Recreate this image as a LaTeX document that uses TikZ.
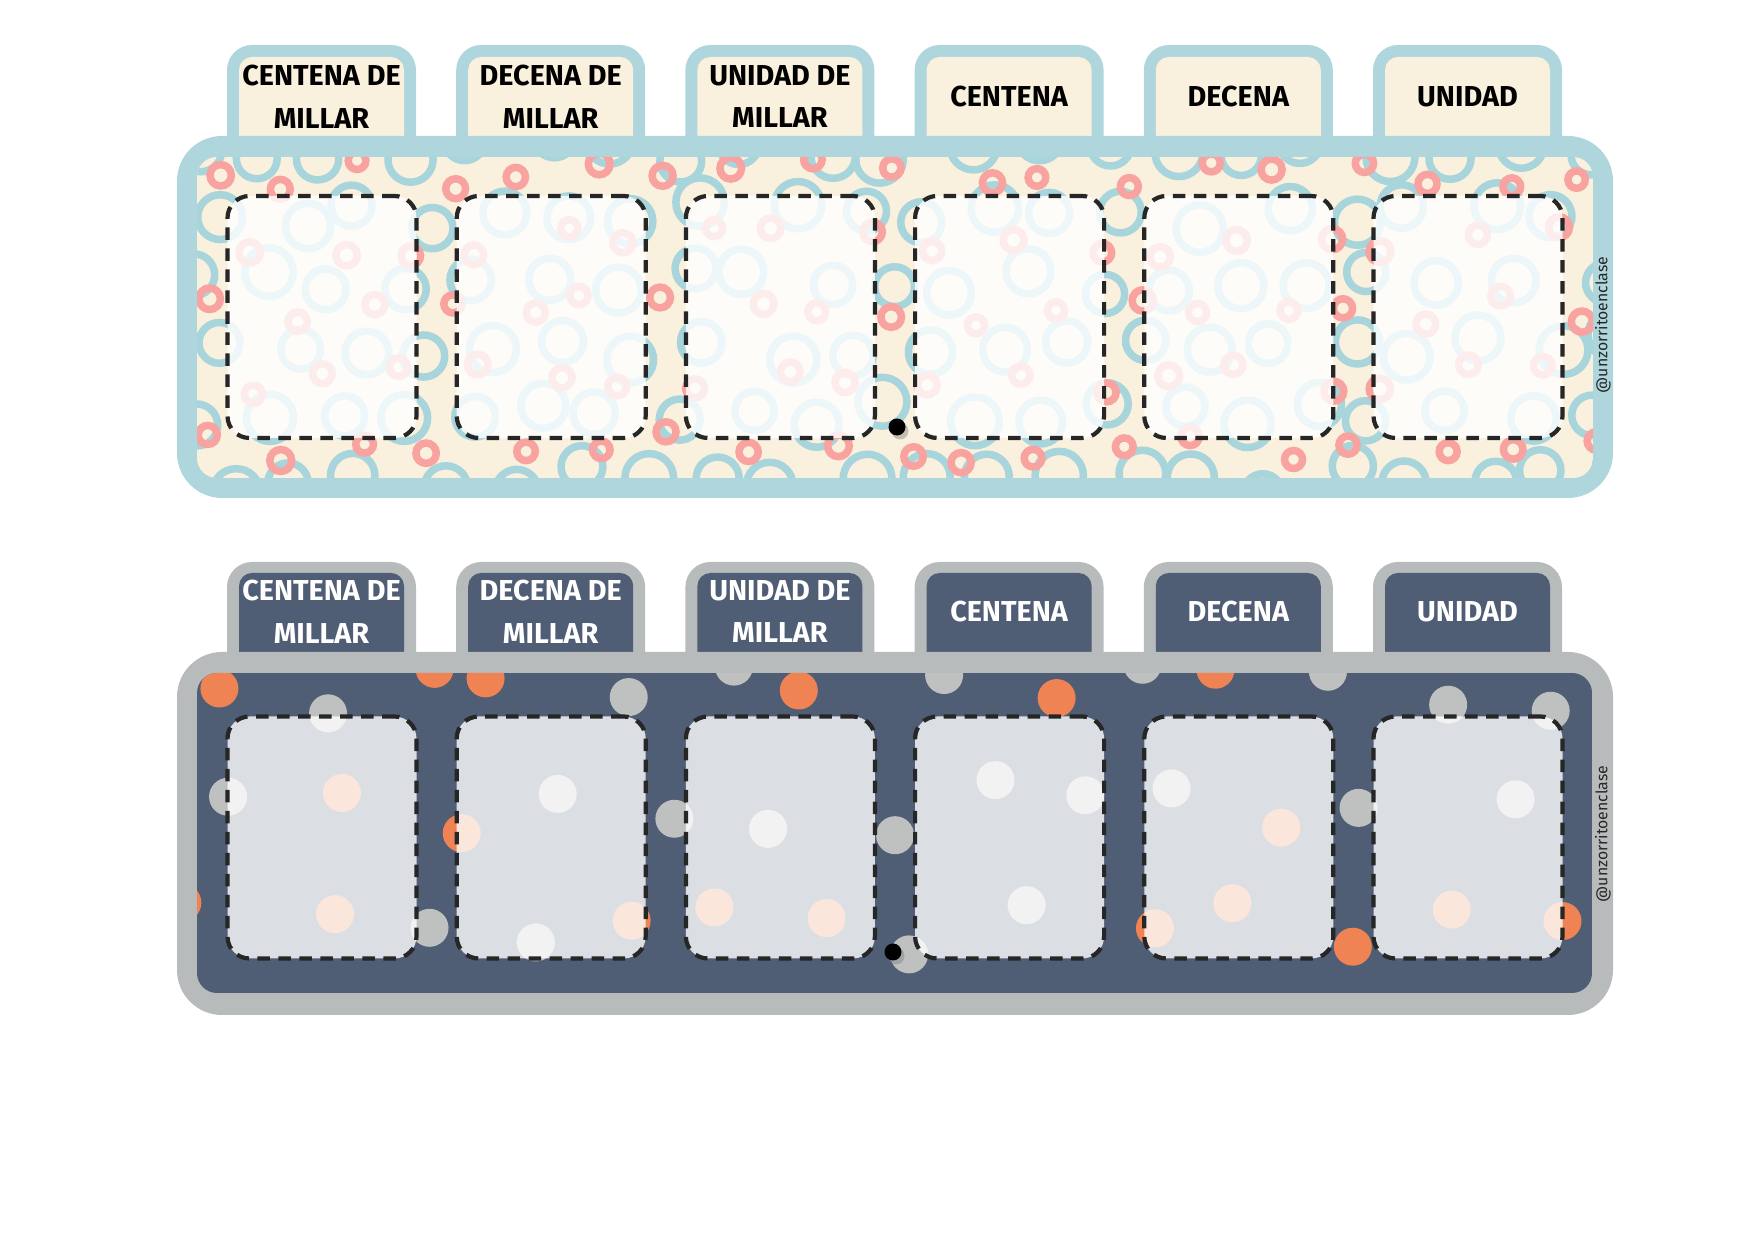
\documentclass[tikz,border=0pt]{standalone}
\usepackage{fontspec}
\IfFontExistsTF{Fira Sans Heavy}
    {\setmainfont{Fira Sans}[BoldFont={Fira Sans Heavy}]}
    {\setmainfont{Fira Sans}}
\usetikzlibrary{shadows}

\definecolor{tealedge}{HTML}{AED6DC}
\definecolor{creamfill}{HTML}{F9F1DD}
\definecolor{ringblue}{HTML}{A8D4DC}
\definecolor{ringpink}{HTML}{F8A3A0}
\definecolor{greyedge}{HTML}{B8BBBC}
\definecolor{slatefill}{HTML}{4F5D75}
\definecolor{dotorange}{HTML}{EF8354}
\definecolor{dotgrey}{HTML}{BFC0C0}

\begin{document}
\begin{tikzpicture}[x=0.1mm, y=-0.1mm,
    % Tab labels and answer slots
    tablabel/.style={
        font=\bfseries\fontsize{8.2}{12.2}\selectfont,
        align=center,
        inner sep=0pt
    },
    slotbox/.style={
        rectangle,
        draw=black!85,
        line width=0.42mm,
        dash pattern=on 1.25mm off 0.85mm,
        fill=white,
        fill opacity=0.8,
        rounded corners=2.2mm,
        minimum width=18.9mm,
        minimum height=24.2mm,
        inner sep=0pt
    },
    holedot/.style={
        circle,
        fill=black,
        minimum size=1.7mm,
        inner sep=0pt,
        drop shadow={shadow xshift=0.3mm, shadow yshift=-0.4mm, opacity=0.45}
    },
    credit/.style={font=\fontsize{4.5}{5}\selectfont, text=black!85, rotate=90, inner sep=0pt},
    ring/.style={line width=0.75mm}
]
\useasboundingbox (0,0) rectangle (1755,1241);

% ---------- Top board (rings) ----------
\foreach \i in {0,...,5} {
    \fill[tealedge, rounded corners=2.5mm] ({227+229.2*\i},45) rectangle ++(189,120);
    \fill[creamfill, rounded corners=1.3mm] ({239+229.2*\i},57) rectangle ++(165,100);
}
\fill[tealedge, rounded corners=4.5mm] (177,136) rectangle (1613,498);

\begin{scope}
    \clip[rounded corners=2mm] (197,157) rectangle (1593,478);
    \fill[creamfill] (197,157) rectangle (1593,478);
    \pgfmathsetseed{11}
    \foreach \c in {0,...,20} \foreach \r in {0,...,5} {
        \pgfmathsetmacro\rx{190+70*\c+35*mod(\r,2)+16*rand}
        \pgfmathsetmacro\ry{150+66*\r+14*rand}
        \pgfmathsetmacro\rr{1.95+0.5*rnd}
        \draw[ring, ringblue] (\rx,\ry) circle (\rr mm);
    }
    \foreach \c in {0,...,18} \foreach \r in {0,...,4} {
        \pgfmathsetmacro\rx{215+76*\c+38*mod(\r,2)+18*rand}
        \pgfmathsetmacro\ry{175+68*\r+16*rand}
        \pgfmathsetmacro\rr{0.85+0.25*rnd}
        \draw[ring, ringpink] (\rx,\ry) circle (\rr mm);
    }
\end{scope}

\foreach \i/\lbl in {0/{CENTENA DE\\MILLAR},1/{DECENA DE\\MILLAR},2/{UNIDAD DE\\MILLAR},3/CENTENA,4/DECENA,5/UNIDAD} {
    \node[slotbox] (slotA\i) at ({322+229.2*\i},317) {};
    \node[tablabel] (tabA\i) at ({321.5+229.2*\i},96.5) {\lbl};
}
\node[holedot] (holeA) at (897,427) {};
\node[credit] (creditA) at (1603,325) {@unzorritoenclase};

% ---------- Bottom board (dots) ----------
\foreach \i in {0,...,5} {
    \fill[greyedge, rounded corners=2.5mm] ({227+229.2*\i},562) rectangle ++(189,120);
    \fill[slatefill, rounded corners=1.3mm] ({239+229.2*\i},573) rectangle ++(165,100);
}
\fill[greyedge, rounded corners=4.5mm] (177,652) rectangle (1613,1015);

\begin{scope}
    \clip[rounded corners=2mm] (197,673) rectangle (1592,993);
    \fill[slatefill] (197,673) rectangle (1592,993);
    \pgfmathsetseed{5}
    \foreach \c in {0,...,13} \foreach \r in {0,...,2} {
        \pgfmathsetmacro\rx{205+103*\c+50*mod(\r,2)+30*rand}
        \pgfmathsetmacro\ry{690+120*\r+30*rand}
        \pgfmathsetmacro\k{rnd}
        \ifdim\k pt<0.45pt \def\dc{dotorange}\else\def\dc{dotgrey}\fi
        \fill[\dc] (\rx,\ry) circle (1.9mm);
    }
\end{scope}

\foreach \i/\lbl in {0/{CENTENA DE\\MILLAR},1/{DECENA DE\\MILLAR},2/{UNIDAD DE\\MILLAR},3/CENTENA,4/DECENA,5/UNIDAD} {
    \node[slotbox] (slotB\i) at ({322+229.2*\i},837.5) {};
    \node[tablabel, text=white] (tabB\i) at ({321.5+229.2*\i},611.5) {\lbl};
}
\node[holedot] (holeB) at (893,952) {};
\node[credit] (creditB) at (1603,834) {@unzorritoenclase};

\end{tikzpicture}
\end{document}
